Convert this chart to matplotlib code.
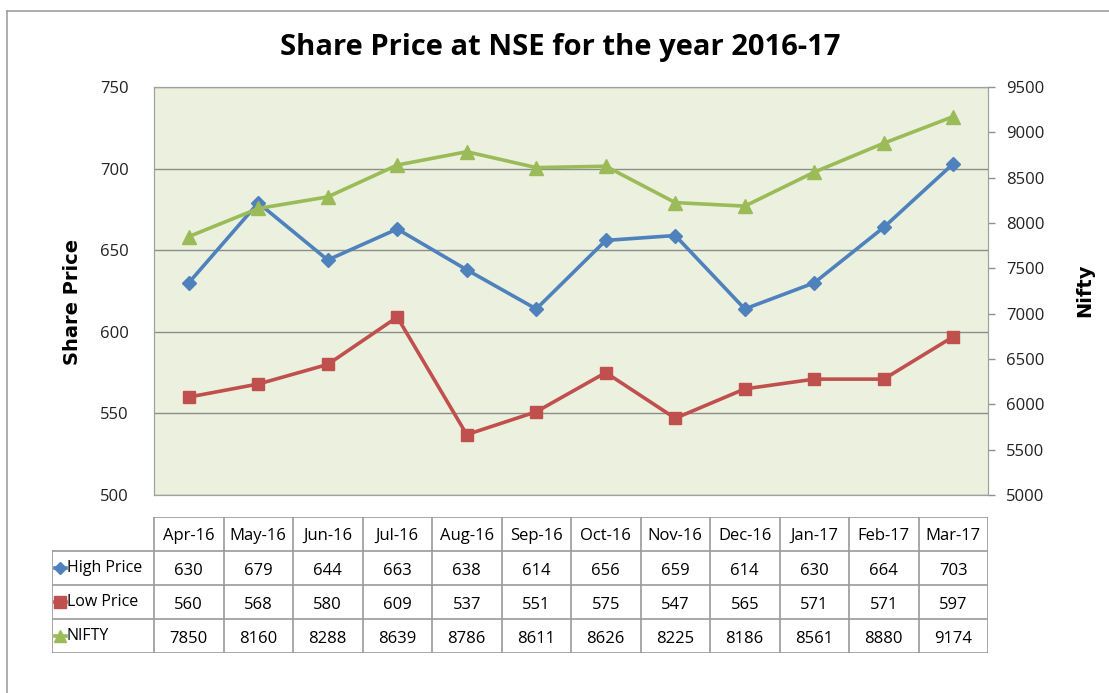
import matplotlib.pyplot as plt
from matplotlib.lines import Line2D

months = ['Apr-16', 'May-16', 'Jun-16', 'Jul-16', 'Aug-16', 'Sep-16',
          'Oct-16', 'Nov-16', 'Dec-16', 'Jan-17', 'Feb-17', 'Mar-17']
high_price = [630, 679, 644, 663, 638, 614, 656, 659, 614, 630, 664, 703]
low_price = [560, 568, 580, 609, 537, 551, 575, 547, 565, 571, 571, 597]
nifty = [7850, 8160, 8288, 8639, 8786, 8611, 8626, 8225, 8186, 8561, 8880, 9174]
series_names = ['High Price', 'Low Price', 'NIFTY']

BLUE = '#4F81BD'
RED = '#C0504D'
GREEN = '#9BBB59'
GRID = '#8C8C8C'

W, H = 1109, 693
plt.rcParams['font.family'] = ['Open Sans', 'DejaVu Sans']

fig = plt.figure(figsize=(W / 100, H / 100), dpi=100)


def px(x0, y0, x1, y1):
    # pixel box -> figure fraction rect
    return [x0 / W, 1 - y1 / H, (x1 - x0) / W, (y1 - y0) / H]


# outer chart border (left and top visible)
fig.add_artist(Line2D([7 / W, 7 / W], [1 - 11 / H, 0], color='#A0A0A0', lw=1.2))
fig.add_artist(Line2D([7 / W, 1], [1 - 11 / H, 1 - 11 / H], color='#A0A0A0', lw=1.2))

ax = fig.add_axes(px(154, 87, 988, 495))
ax.set_facecolor('#EBF1DE')
x = list(range(len(months)))
ax.set_xlim(-0.5, len(months) - 0.5)
ax.set_ylim(500, 750)
ax.set_yticks(range(500, 751, 50))
ax.yaxis.grid(True, color=GRID, lw=1)
ax.set_axisbelow(True)
ax.set_xticks([])
ax.tick_params(axis='y', length=0, pad=18, labelsize=12, colors='#222222')
for s in ax.spines.values():
    s.set_color('#A0A0A0')

ax.plot(x, high_price, color=BLUE, lw=2.6, marker='D', ms=7.5, zorder=3)
ax.plot(x, low_price, color=RED, lw=2.6, marker='s', ms=8.5, zorder=3)

ax2 = ax.twinx()
ax2.set_ylim(5000, 9500)
ax2.set_yticks(range(5000, 9501, 500))
ax2.tick_params(axis='y', length=5, width=1, pad=8, labelsize=12,
                colors='#909090', labelcolor='#222222')
for s in ax2.spines.values():
    s.set_color('#A0A0A0')
ax2.plot(x, nifty, color=GREEN, lw=2.6, marker='^', ms=9.5, zorder=4)

fig.text(0.505, 1 - 47 / H, 'Share Price at NSE for the year 2016-17',
         ha='center', va='center', fontsize=21, fontweight='bold')
fig.text(72 / W, 1 - 302 / H, 'Share Price', rotation=90, ha='center',
         va='center', fontsize=14, fontweight='bold', family=['DejaVu Sans'])
fig.text(1085 / W, 1 - 290 / H, 'Nifty', rotation=90, ha='center',
         va='center', fontsize=14, fontweight='bold', family=['DejaVu Sans'])

# data table under the plot
tab = fig.add_axes(px(52, 517, 988, 653))
lab_w = 102 / 69.5
tab.set_xlim(-lab_w, len(months))
tab.set_ylim(4, 0)
tab.axis('off')
lc = '#9A9A9A'
tab.plot([0, len(months)], [0, 0], color=lc, lw=1.2)
for r in range(1, 5):
    tab.plot([-lab_w, len(months)], [r, r], color=lc, lw=1.2)
tab.plot([-lab_w, -lab_w], [1, 4], color=lc, lw=1.2)
for c in range(len(months) + 1):
    tab.plot([c, c], [0, 4], color=lc, lw=1.2)

for c, m in enumerate(months):
    tab.text(c + 0.5, 0.55, m, ha='center', va='center', fontsize=12)
rows = [high_price, low_price, nifty]
for r, vals in enumerate(rows):
    for c, v in enumerate(vals):
        tab.text(c + 0.5, r + 1.58, str(v), ha='center', va='center', fontsize=12)

key_styles = [(BLUE, 'D', 6), (RED, 's', 8), (GREEN, '^', 8)]
for r, (name, (col, mk, ms)) in enumerate(zip(series_names, key_styles)):
    yy = r + 1.5
    tab.plot([-lab_w + 0.04, -lab_w + 0.2], [yy, yy], color=col, lw=2.6)
    tab.plot([-lab_w + 0.12], [yy], marker=mk, color=col, ms=ms)
    tab.text(-lab_w + 0.21, yy, name, ha='left', va='center', fontsize=11.5)

fig.savefig('out.png', dpi=100)
